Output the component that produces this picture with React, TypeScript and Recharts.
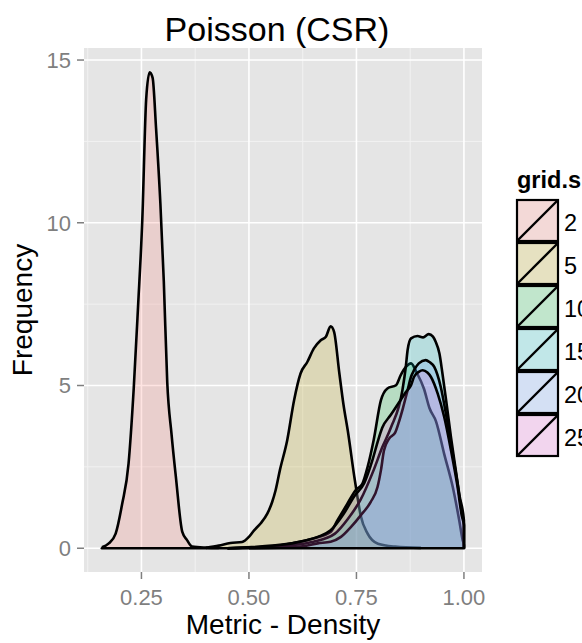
import React from 'react';
import { ComposedChart, Area, Line, XAxis, YAxis, CartesianGrid } from 'recharts';

// ---- data ----
const seriesNames = ['2', '5', '10', '15', '20', '25'];
const seriesColors = ['#F8766D', '#B79F00', '#00BA38', '#00BFC4', '#619CFF', '#F564E3'];

const xs2 = [0.158, 0.174, 0.19, 0.205, 0.22, 0.232, 0.242, 0.252, 0.261, 0.269, 0.276, 0.284, 0.294, 0.302, 0.31, 0.32, 0.33, 0.345, 0.356, 0.368, 0.4, 0.43];
const ys2 = [0.03, 0.15, 0.45, 1.35, 2.6, 4.9, 7.4, 10.1, 13.8, 14.62, 14.45, 12.9, 10.6, 8.2, 5.1, 3.5, 2.2, 0.5, 0.25, 0.05, 0.02, 0.01];

const xs5 = [0.4, 0.43, 0.457, 0.484, 0.5, 0.512, 0.527, 0.543, 0.554, 0.562, 0.572, 0.589, 0.605, 0.62, 0.636, 0.651, 0.667, 0.679, 0.69, 0.698, 0.71, 0.72, 0.73, 0.745, 0.752, 0.76, 0.776, 0.8, 0.84, 0.9];
const ys5 = [0.01, 0.08, 0.16, 0.19, 0.35, 0.55, 0.76, 1.07, 1.42, 1.78, 2.4, 3.32, 4.55, 5.37, 5.73, 6.14, 6.39, 6.5, 6.82, 6.65, 5.4, 4.4, 3.6, 2.2, 1.6, 1.0, 0.45, 0.14, 0.05, 0.01];

const xs10 = [0.45, 0.55, 0.6, 0.65, 0.69, 0.706, 0.729, 0.748, 0.764, 0.776, 0.79, 0.807, 0.822, 0.842, 0.853, 0.865, 0.877, 0.89, 0.907, 0.92, 0.935, 0.954, 0.974, 0.989, 0.997, 1.0, 1.0];
const ys10 = [0.0, 0.05, 0.15, 0.3, 0.5, 0.86, 1.37, 1.78, 1.99, 2.5, 3.32, 4.55, 4.91, 5.01, 5.32, 5.57, 5.68, 5.4, 4.9, 4.3, 3.9, 2.9, 1.88, 0.86, 0.25, 0.1, 0];

const xs15 = [0.45, 0.6, 0.65, 0.7, 0.73, 0.76, 0.79, 0.81, 0.83, 0.857, 0.865, 0.869, 0.877, 0.892, 0.905, 0.918, 0.928, 0.934, 0.943, 0.95, 0.96, 0.97, 0.981, 0.99, 1.0, 1.0];
const ys15 = [0.0, 0.1, 0.2, 0.45, 0.9, 1.5, 2.4, 3.1, 3.7, 4.86, 5.6, 6.09, 6.45, 6.52, 6.48, 6.58, 6.5, 6.35, 5.98, 5.37, 4.4, 3.4, 2.4, 1.6, 0.85, 0];

const xs20 = [0.5, 0.62, 0.66, 0.69, 0.714, 0.737, 0.76, 0.783, 0.799, 0.807, 0.814, 0.826, 0.84, 0.848, 0.858, 0.869, 0.877, 0.884, 0.895, 0.911, 0.92, 0.931, 0.946, 0.958, 0.97, 0.985, 0.995, 1.0, 1.0];
const ys20 = [0.0, 0.05, 0.15, 0.2, 0.35, 0.65, 1.01, 1.42, 1.88, 2.4, 3.0, 3.37, 3.55, 3.85, 4.3, 4.86, 5.27, 5.47, 5.68, 5.78, 5.72, 5.57, 4.96, 4.14, 3.2, 2.0, 1.1, 0.75, 0];

const xs25 = [0.45, 0.6, 0.636, 0.66, 0.69, 0.72, 0.745, 0.768, 0.787, 0.8, 0.81, 0.83, 0.85, 0.865, 0.877, 0.884, 0.895, 0.904, 0.915, 0.923, 0.939, 0.954, 0.97, 0.985, 0.995, 1.0, 1.0];
const ys25 = [0.0, 0.15, 0.25, 0.35, 0.55, 1.05, 1.6, 2.0, 2.7, 3.3, 3.7, 4.1, 4.5, 4.8, 5.01, 5.27, 5.42, 5.47, 5.4, 5.27, 4.75, 4.04, 3.0, 1.9, 1.0, 0.7, 0];

const xTicks = [0.25, 0.5, 0.75, 1.0];
const xMinor = [0.125, 0.375, 0.625, 0.875];
const yTicks = [0, 5, 10, 15];
const yMinor = [2.5, 7.5, 12.5];

const xDomain = [0.1164, 1.042];
const yDomain = [-0.73, 15.37];

const seriesXs = [xs2, xs5, xs10, xs15, xs20, xs25];
const seriesYs = [ys2, ys5, ys10, ys15, ys20, ys25];

// build table
const keys = seriesNames.map((n) => 'g' + n);
const rows: any[] = [];
seriesXs.forEach((xs, si) => {
  xs.forEach((x, i) => {
    rows.push({ x, [keys[si]]: seriesYs[si][i] });
  });
});
const allX = seriesXs.flat();
rows.push({ x: Math.min(...allX), base: 0 });
rows.push({ x: Math.max(...allX), base: 0 });
rows.sort((a, b) => a.x - b.x);

const FONT = '"Liberation Sans", Arial, Helvetica, sans-serif';

export default function App() {
  const keyTop = 199;
  const keySize = 43;
  const keyLeft = 516;
  return (
    <div style={{ position: 'fixed', left: 0, top: 0, width: 582, height: 643, overflow: 'hidden', background: '#fff', fontFamily: FONT }}>
      <ComposedChart width={582} height={643} data={rows} margin={{ top: 48, right: 100, bottom: 0, left: 0 }}>
        <CartesianGrid fill="#E5E5E5" stroke="#F2F2F2" strokeWidth={1} horizontalValues={yMinor} verticalValues={xMinor} />
        <CartesianGrid stroke="#FFFFFF" strokeWidth={1.6} horizontalValues={yTicks} verticalValues={xTicks} />
        <XAxis
          type="number"
          dataKey="x"
          domain={xDomain}
          allowDataOverflow
          ticks={xTicks}
          tickFormatter={(v: number) => v.toFixed(2)}
          height={71}
          tickSize={7}
          tickMargin={10}
          axisLine={false}
          tickLine={{ stroke: '#7F7F7F', strokeWidth: 1.5 }}
          tick={{ fontSize: 22, fill: '#7F7F7F', fontFamily: FONT }}
        />
        <YAxis
          type="number"
          domain={yDomain}
          allowDataOverflow
          ticks={yTicks}
          width={84}
          tickSize={7}
          tickMargin={6}
          axisLine={false}
          tickLine={{ stroke: '#7F7F7F', strokeWidth: 1.5 }}
          tick={{ fontSize: 22, fill: '#7F7F7F', fontFamily: FONT }}
        />
        {keys.map((k, i) => (
          <Area
            key={k}
            type="monotone"
            dataKey={k}
            connectNulls
            stroke="#000"
            strokeWidth={2.6}
            strokeLinejoin="round"
            fill={seriesColors[i]}
            fillOpacity={0.2}
            dot={false}
            activeDot={false}
            isAnimationActive={false}
          />
        ))}
        <Line type="linear" dataKey="base" connectNulls stroke="#000" strokeWidth={2.6} strokeLinecap="round" dot={false} activeDot={false} isAnimationActive={false} />
      </ComposedChart>
      <svg width={582} height={643} style={{ position: 'absolute', left: 0, top: 0, pointerEvents: 'none' }}>
        <text x={277} y={41} textAnchor="middle" fontSize={34} fontFamily={FONT} fill="#000">Poisson (CSR)</text>
        <text x={283} y={634} textAnchor="middle" fontSize={28} fontFamily={FONT} fill="#000">Metric - Density</text>
        <text x={32} y={310} textAnchor="middle" fontSize={28} fontFamily={FONT} fill="#000" transform="rotate(-90 32 310)">Frequency</text>
        <text x={517} y={188} fontSize={23.5} fontWeight="bold" fontFamily={FONT} fill="#000">grid.size</text>
        {seriesNames.map((n, i) => {
          const y0 = keyTop + i * keySize;
          return (
            <g key={n}>
              <rect x={keyLeft} y={y0} width={keySize} height={keySize} fill="#F2F2F2" />
              <rect x={keyLeft + 1} y={y0 + 1} width={keySize - 2} height={keySize - 2} fill={seriesColors[i]} fillOpacity={0.2} stroke="#000" strokeWidth={2.2} />
              <line x1={keyLeft + 1} y1={y0 + keySize - 1} x2={keyLeft + keySize - 1} y2={y0 + 1} stroke="#000" strokeWidth={2.4} />
              <text x={564} y={y0 + 32} fontSize={23.5} fontFamily={FONT} fill="#000">{n}</text>
            </g>
          );
        })}
      </svg>
    </div>
  );
}
